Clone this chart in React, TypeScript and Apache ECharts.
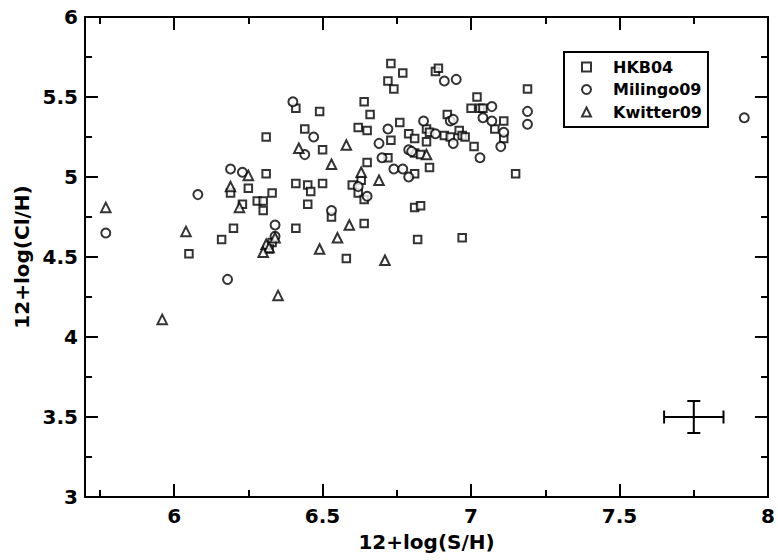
import React, { useEffect, useRef } from "react";
import * as echarts from "echarts";

// 12+log(S/H), 12+log(Cl/H) pairs for each sample
const hkb04: [number, number][] = [
  [6.31, 5.25], [6.73, 5.71], [6.77, 5.65], [6.72, 5.6], [6.74, 5.55],
  [6.41, 5.43], [6.49, 5.41], [6.64, 5.47], [6.66, 5.39], [6.62, 5.31],
  [6.65, 5.29], [6.76, 5.34], [6.44, 5.3], [6.79, 5.27], [6.73, 5.23],
  [6.5, 5.17], [6.72, 5.12], [6.65, 5.09], [6.88, 5.66], [6.89, 5.68],
  [7.19, 5.55], [7.02, 5.5], [7.0, 5.43], [7.03, 5.43], [7.04, 5.43],
  [7.11, 5.35], [7.08, 5.3], [7.11, 5.24], [7.01, 5.19], [6.92, 5.39],
  [6.85, 5.3], [6.86, 5.28], [6.91, 5.26], [6.93, 5.25], [6.96, 5.29],
  [6.97, 5.26], [6.98, 5.25], [6.81, 5.24], [6.85, 5.22], [6.81, 5.15],
  [6.83, 5.14], [6.86, 5.06], [7.15, 5.02], [6.81, 5.02], [6.41, 4.96],
  [6.45, 4.95], [6.46, 4.91], [6.5, 4.96], [6.6, 4.95], [6.63, 4.98],
  [6.62, 4.9], [6.64, 4.86], [6.45, 4.83], [6.53, 4.75], [6.81, 4.81],
  [6.83, 4.82], [6.41, 4.68], [6.64, 4.71], [6.58, 4.49], [6.82, 4.61],
  [6.97, 4.62], [6.05, 4.52], [6.31, 5.02], [6.19, 4.9], [6.25, 4.93],
  [6.33, 4.9], [6.23, 4.83], [6.28, 4.85], [6.3, 4.85], [6.3, 4.79],
  [6.2, 4.68], [6.16, 4.61], [6.33, 4.59], [6.32, 4.55],
];

const milingo09: [number, number][] = [
  [6.4, 5.47], [6.72, 5.3], [6.47, 5.25], [6.69, 5.21], [6.44, 5.14],
  [6.7, 5.12], [6.79, 5.17], [6.8, 5.16], [6.74, 5.05], [6.77, 5.05],
  [6.79, 5.0], [6.91, 5.6], [6.95, 5.61], [7.19, 5.41], [7.19, 5.33],
  [7.07, 5.44], [7.04, 5.37], [7.07, 5.35], [7.11, 5.28], [7.1, 5.19],
  [7.03, 5.12], [6.93, 5.35], [6.94, 5.36], [6.84, 5.35], [6.88, 5.27],
  [6.94, 5.21], [7.92, 5.37], [6.62, 4.94], [6.65, 4.88], [6.53, 4.79],
  [5.77, 4.65], [6.08, 4.89], [6.18, 4.36], [6.19, 5.05], [6.23, 5.03],
  [6.34, 4.7], [6.34, 4.63],
];

const kwitter09: [number, number][] = [
  [6.58, 5.2], [6.42, 5.18], [6.53, 5.08], [6.63, 5.03], [6.69, 4.98],
  [6.85, 5.14], [6.59, 4.7], [6.55, 4.62], [6.49, 4.55], [6.71, 4.48],
  [5.77, 4.81], [5.96, 4.11], [6.04, 4.66], [6.35, 4.26], [6.25, 5.01],
  [6.19, 4.94], [6.22, 4.81], [6.34, 4.62], [6.31, 4.58], [6.32, 4.56],
  [6.3, 4.53],
];

// typical uncertainty: [x, y, xErr, yErr]
const typicalError: [number, number, number, number][] = [[7.75, 3.5, 0.1, 0.1]];

const xMajorTicks = [6, 6.5, 7, 7.5, 8];
const xMinorTicks = [5.75, 6.25, 6.75, 7.25, 7.75];

const FONT = "DejaVu Sans";
const INK = "#000";

export default function App() {
  const ref = useRef<HTMLDivElement>(null);

  useEffect(() => {
    if (!ref.current) return;
    const chart = echarts.init(ref.current, null, { renderer: "svg" });

    const axisLine = { show: true, onZero: false, lineStyle: { color: INK, width: 2 } };
    const xBase = { type: "value" as const, min: 5.7, max: 8, splitLine: { show: false } };
    const yBase = {
      type: "value" as const, min: 3, max: 6, interval: 0.5, splitLine: { show: false },
      axisTick: { show: true, inside: true, length: 13, lineStyle: { color: INK, width: 2 } },
      minorTick: { show: true, splitNumber: 2, length: 7, lineStyle: { color: INK, width: 2 } },
      axisLine,
    };
    const majorTick = { show: true, inside: true, length: 13, customValues: xMajorTicks, lineStyle: { color: INK, width: 2 } };
    const minorTick = { show: true, inside: true, length: 7, customValues: xMinorTicks, lineStyle: { color: INK, width: 2 } };

    const marker = { color: "#fff", borderColor: INK, borderWidth: 2 };

    chart.setOption({
      animation: false,
      backgroundColor: "#fff",
      grid: { left: 85, right: 8, top: 17, bottom: 63 },
      xAxis: [
        {
          ...xBase, position: "bottom", axisLine, axisTick: majorTick,
          axisLabel: { customValues: xMajorTicks, margin: 9, color: INK, fontFamily: FONT, fontWeight: "bold", fontSize: 20 },
          name: "12+log(S/H)", nameLocation: "middle", nameGap: 35,
          nameTextStyle: { color: INK, fontFamily: FONT, fontWeight: "bold", fontSize: 20 },
        },
        { ...xBase, position: "bottom", axisLine: { show: false }, axisTick: minorTick, axisLabel: { show: false } },
        { ...xBase, position: "top", axisLine, axisTick: majorTick, axisLabel: { show: false } },
        { ...xBase, position: "top", axisLine: { show: false }, axisTick: minorTick, axisLabel: { show: false } },
      ],
      yAxis: [
        {
          ...yBase, position: "left",
          axisLabel: { margin: 7, color: INK, fontFamily: FONT, fontWeight: "bold", fontSize: 20 },
          name: "12+log(Cl/H)", nameLocation: "middle", nameGap: 50,
          nameTextStyle: { color: INK, fontFamily: FONT, fontWeight: "bold", fontSize: 20 },
        },
        { ...yBase, position: "right", axisLabel: { show: false } },
      ],
      legend: {
        data: ["HKB04", "Milingo09", "Kwitter09"],
        orient: "vertical",
        left: 564,
        top: 52,
        padding: [7, 6, 7, 17],
        itemGap: 6.5,
        itemWidth: 9,
        itemHeight: 9,
        backgroundColor: "#fff",
        borderColor: INK,
        borderWidth: 2,
        borderRadius: 0,
        selectedMode: false,
        textStyle: {
          color: INK, fontFamily: FONT, fontWeight: "bold", fontSize: 16, lineHeight: 16,
          padding: [0, 0, 0, 17],
        },
      },
      series: [
        { name: "HKB04", type: "scatter", symbol: "rect", symbolSize: 7.5, itemStyle: marker, data: hkb04, silent: true },
        { name: "Milingo09", type: "scatter", symbol: "circle", symbolSize: 9, itemStyle: marker, data: milingo09, silent: true },
        { name: "Kwitter09", type: "scatter", symbol: "triangle", symbolSize: 9.5, itemStyle: marker, data: kwitter09, silent: true },
        {
          name: "typical error",
          type: "custom",
          silent: true,
          encode: { x: 0, y: 1 },
          data: typicalError,
          renderItem: (_params: any, api: any) => {
            const x = api.value(0), y = api.value(1), dx = api.value(2), dy = api.value(3);
            const l = api.coord([x - dx, y]);
            const r = api.coord([x + dx, y]);
            const t = api.coord([x, y + dy]);
            const b = api.coord([x, y - dy]);
            const cap = 6.5;
            const style = { stroke: INK, lineWidth: 2 };
            const seg = (x1: number, y1: number, x2: number, y2: number) => ({
              type: "line", shape: { x1, y1, x2, y2 }, style,
            });
            return {
              type: "group",
              children: [
                seg(l[0], l[1], r[0], r[1]),
                seg(t[0], t[1], b[0], b[1]),
                seg(l[0], l[1] - cap, l[0], l[1] + cap),
                seg(r[0], r[1] - cap, r[0], r[1] + cap),
                seg(t[0] - cap, t[1], t[0] + cap, t[1]),
                seg(b[0] - cap, b[1], b[0] + cap, b[1]),
              ],
            };
          },
        },
      ],
    });

    return () => chart.dispose();
  }, []);

  return <div ref={ref} style={{ position: "fixed", left: 0, top: 0, width: 778, height: 560 }} />;
}
